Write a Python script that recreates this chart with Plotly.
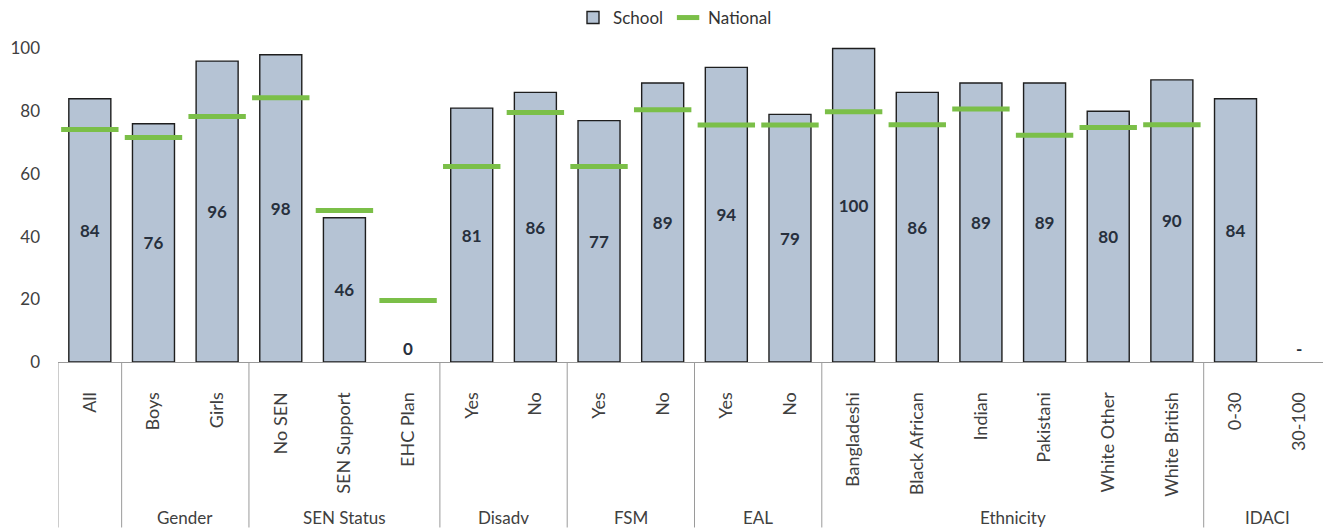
import plotly.graph_objects as go

groups = ["", "Gender", "Gender", "SEN Status", "SEN Status", "SEN Status",
          "Disadv", "Disadv", "FSM", "FSM", "EAL", "EAL",
          "Ethnicity", "Ethnicity", "Ethnicity", "Ethnicity", "Ethnicity", "Ethnicity",
          "IDACI", "IDACI"]
categories = ["All", "Boys", "Girls", "No SEN", "SEN Support", "EHC Plan",
              "Yes", "No", "Yes", "No", "Yes", "No",
              "Bangladeshi", "Black African", "Indian", "Pakistani", "White Other", "White British",
              "0-30", "30-100"]
school = [84, 76, 96, 98, 46, 0, 81, 86, 77, 89, 94, 79, 100, 86, 89, 89, 80, 90, 84, 0]
school_labels = ["84", "76", "96", "98", "46", "0", "81", "86", "77", "89", "94", "79",
                 "100", "86", "89", "89", "80", "90", "84", "-"]
national = [74.2, 71.6, 78.3, 84.3, 48.3, 19.6, 62.4, 79.6, 62.4, 80.5, 75.6, 75.6,
            79.8, 75.7, 80.7, 72.3, 74.8, 75.7, None, None]

pos = list(range(len(categories)))
textpos = ["outside" if v == 0 else "inside" for v in school]
linew = [0 if v == 0 else 1.4 for v in school]

# page has an 8px body margin; figure sized to end at the window edges
OFF = 8
W, H = 1331 - OFF, 529 - OFF
T, B, L = 33 - OFF, 167, 58 - OFF
plot_h = H - T - B
axis_page_y = 362

fig = go.Figure()
fig.add_trace(go.Bar(
    x=pos, y=school, name="School",
    text=school_labels, textposition=textpos, insidetextanchor="middle",
    constraintext="none", cliponaxis=False,
    textfont=dict(family="Lato", size=17, color="#27303d", weight="bold"),
    marker=dict(color="#b5c3d4", line=dict(color="#1e1e1e", width=linew)),
    width=0.66,
))
fig.add_trace(go.Scatter(
    x=pos, y=national, name="National", mode="markers",
    marker=dict(symbol="line-ew", size=41, color="#7bbf48",
                line=dict(color="#7bbf48", width=5)),
))

shapes = []
annotations = []
start = 0
for i in range(1, len(groups) + 1):
    if i == len(groups) or groups[i] != groups[start]:
        shapes.append(dict(type="line", xref="x", yref="paper",
                           x0=start - 0.5, x1=start - 0.5, y0=0, y1=-B / plot_h,
                           line=dict(color="#9a9a9a", width=1)))
        if groups[start]:
            annotations.append(dict(xref="x", yref="paper", x=(start + i - 1) / 2,
                                    y=-(519 - axis_page_y) / plot_h, yanchor="middle",
                                    text=groups[start], showarrow=False,
                                    font=dict(family="Lato", size=17, color="#404040")))
        start = i

fig.update_layout(
    width=W, height=H,
    margin=dict(l=L, r=0, t=T, b=B),
    plot_bgcolor="white", paper_bgcolor="white",
    font=dict(family="Lato", size=17, color="#404040"),
    legend=dict(orientation="h", xref="container", yref="container",
                x=(675 - OFF) / W, xanchor="center", y=1 - (18 - OFF) / H,
                yanchor="middle",
                font=dict(size=17, color="#333333"), itemsizing="trace",
                traceorder="normal"),
    shapes=shapes,
    annotations=annotations,
    xaxis=dict(range=[-0.5, 19.5], tickvals=pos, ticktext=categories,
               tickangle=-90, showline=True, linecolor="#9a9a9a", linewidth=1,
               showgrid=False, zeroline=False, ticks="", automargin=False,
               ticklabelstandoff=22, tickfont=dict(size=18, color="#404040")),
    yaxis=dict(range=[0, 104], showgrid=False, zeroline=False, showline=False,
               tickvals=[0, 20, 40, 60, 80, 100], ticks="", automargin=False,
               ticklabelstandoff=17, tickfont=dict(size=17, color="#404040")),
)

fig.write_html("out.html")
